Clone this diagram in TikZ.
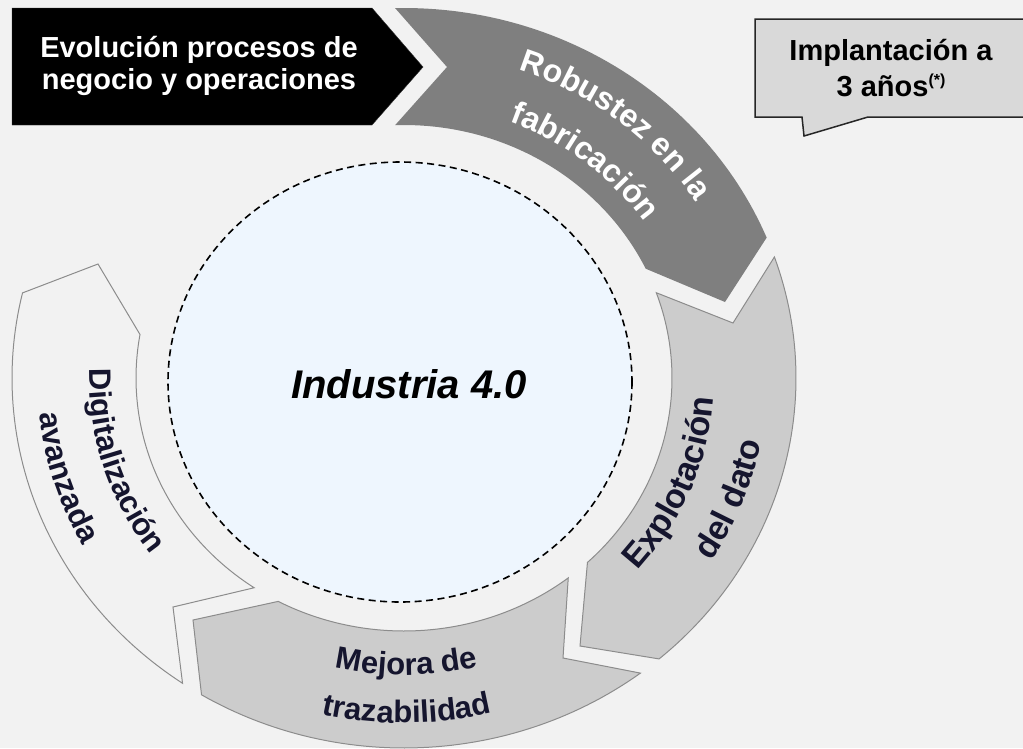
\documentclass[tikz,border=0pt]{standalone}
\usepackage{fontspec}
\setmainfont{Liberation Sans}
\usetikzlibrary{decorations.text}
\definecolor{bgcol}{HTML}{F2F2F2}
\definecolor{robgray}{HTML}{7F7F7F}
\definecolor{segfill}{HTML}{CCCCCC}
\definecolor{segline}{HTML}{8C8C8C}
\definecolor{navytext}{HTML}{15152E}
\definecolor{circfill}{HTML}{EEF6FE}
\definecolor{callfill}{HTML}{D9D9D9}
\definecolor{callline}{HTML}{262626}
\newcommand{\ringfont}{\bfseries\fontsize{31}{31}\selectfont}
\newcommand{\robfont}{\bfseries\fontsize{32}{32}\selectfont}
\newcommand{\explfont}{\bfseries\fontsize{34}{34}\selectfont}
\begin{document}
\begin{tikzpicture}[x=1pt,y=-1pt,
  lightseg/.style={fill=segfill, draw=segline, line width=1pt},
  boxtext/.style={text=white, font=\bfseries\fontsize{29}{33}\selectfont, anchor=base, inner sep=0pt},
  calltext/.style={text=black, font=\bfseries\fontsize{29}{33}\selectfont, anchor=base, inner sep=0pt},
  ringlabel/.style={decorate, decoration={text along path, text align=center, text color=#1}}
]
\useasboundingbox (0,0) rectangle (1023,748);
\clip (0,0) rectangle (1023,748);
\fill[bgcol] (0,0) rectangle (1023,748);

% black arrow box
\fill[black, draw=black!80] (12,8) -- (372,8) -- (423,67) -- (372,125) -- (12,125) -- cycle;
\node[boxtext] (evol1) at (199,57) {Evolución procesos de};
\node[boxtext] (evol2) at (199,89) {negocio y operaciones};

% callout
\draw[fill=callfill, draw=callline, line width=1.5pt, line join=miter]
  (755,19) -- (1030,19) -- (1030,117) -- (868,117) -- (804,136) -- (802,117) -- (755,117) -- cycle;
\node[calltext] (call1) at (891,60) {Implantación a};
\node[calltext] (call2) at (891,96) {3 años\raisebox{11pt}{\fontsize{16}{16}\selectfont(*)}};

% central dashed circle
\draw[fill=circfill, line width=1.6pt, dash pattern=on 7pt off 4.5pt] (400,382) ellipse [x radius=232, y radius=220];
\node[font=\bfseries\itshape\fontsize{40}{40}\selectfont, anchor=base, inner sep=0pt] (ind) at (409,398) {Industria 4.0};

% Robustez en la fabricacion
\fill[robgray]
  plot[domain=91.3:22.3, samples=60] ({404+392*cos(\x)},{378-370*sin(\x)})
  -- (725,302)
  -- plot[domain=25.6:91.9, samples=60] ({404+268*cos(\x)},{378-253*sin(\x)})
  -- (447,67) -- cycle;

% Explotacion del dato
\filldraw[lightseg]
  plot[domain=19.1:-49.4, samples=60] ({404+392*cos(\x)},{378-370*sin(\x)})
  -- (580,646)
  -- plot[domain=-46.8:19.7, samples=60] ({404+268*cos(\x)},{378-253*sin(\x)})
  -- (733,323) -- cycle;

% Mejora de trazabilidad
\filldraw[lightseg]
  plot[domain=-52.9:-121.1, samples=60] ({404+392*cos(\x)},{378-370*sin(\x)})
  -- (193,620)
  -- plot[domain=-118:-52.2, samples=60] ({404+268*cos(\x)},{378-253*sin(\x)})
  -- (563,658) -- cycle;

% Digitalizacion avanzada
\filldraw[fill=bgcol, draw=segline, line width=1pt]
  plot[domain=-124.4:-193.3, samples=60] ({404+392*cos(\x)},{378-370*sin(\x)})
  -- (98,264)
  -- plot[domain=-189.9:-124.0, samples=60] ({404+268*cos(\x)},{378-253*sin(\x)})
  -- (173,607) -- cycle;

% ring labels
\path[ringlabel=white, decoration={text={|\robfont|Robustez en la}}]
  plot[domain=96:6, samples=90] ({404+346.5*cos(\x)},{378-327*sin(\x)});
\path[ringlabel=white, decoration={text={|\robfont|fabricación}}]
  plot[domain=96:6, samples=90] ({404+291.4*cos(\x)},{378-275*sin(\x)});

\path[ringlabel=navytext, decoration={text={|\explfont|Explotación}}]
  plot[domain=-68:24, samples=90] ({404+310.4*cos(\x)},{378-293*sin(\x)});
\path[ringlabel=navytext, decoration={text={|\explfont|del dato}}]
  plot[domain=-66:24, samples=90] ({404+363.4*cos(\x)},{378-343*sin(\x)});

\path[ringlabel=navytext, decoration={text={|\ringfont|Mejora de}}]
  plot[domain=-134:-45, samples=90] ({404+314.7*cos(\x)},{378-297*sin(\x)});
\path[ringlabel=navytext, decoration={text={|\ringfont|trazabilidad}}]
  plot[domain=-134:-45, samples=90] ({404+365.5*cos(\x)},{378-345*sin(\x)});

\path[ringlabel=navytext, decoration={text={|\ringfont|Digitalización}}]
  plot[domain=152:242, samples=90] ({404+314.7*cos(\x)},{378-297*sin(\x)});
\path[ringlabel=navytext, decoration={text={|\ringfont|avanzada}}]
  plot[domain=152:242, samples=90] ({404+366.6*cos(\x)},{378-346*sin(\x)});
\end{tikzpicture}
\end{document}
